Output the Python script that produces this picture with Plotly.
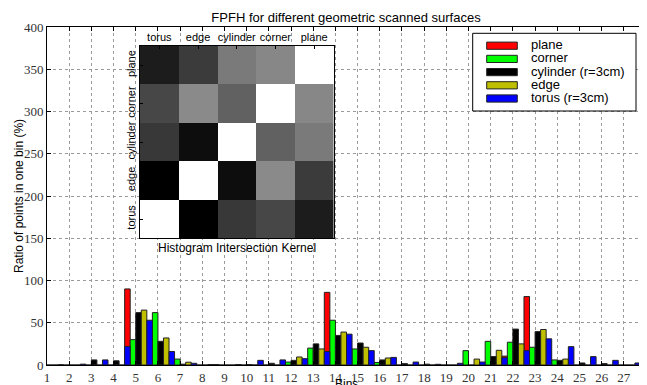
import plotly.graph_objects as go

# ---------------- data ----------------
bins = list(range(1, 28))
tick_labels = [str(b) for b in bins]
series_names = ["plane", "corner", "cylinder (r=3cm)", "edge", "torus (r=3cm)"]
series_colors = ["#ff0000", "#00ff00", "#000000", "#bfbf00", "#0000ff"]

plane = [0, 0, 0, 0, 90, 0, 0, 0, 0, 0, 0, 0, 0, 86, 0, 0, 0, 0, 0, 0, 0, 10.5, 81, 0, 0, 0, 0]
corner = [0, 0, 0, 0, 30, 62, 7, 0, 0, 0, 0, 3.5, 20, 53, 19, 3, 0, 0, 0, 17, 28, 27, 21, 6, 0, 0, 0]
cylinder = [0, 0, 6, 5, 62, 28, 1, 0, 0, 0.5, 2, 5.5, 25, 35, 26, 6, 1.6, 1, 0, 0, 10, 42.5, 39.5, 5.5, 2.4, 1.6, 0]
edge = [0, 0, 0, 0, 65, 32, 3.3, 0.6, 0, 0, 0, 9.5, 19, 39, 21, 8.3, 0, 0, 0, 7, 17.4, 25, 42, 7, 0, 0, 0]
torus = [0, 1, 6, 22, 53, 16, 2, 0.5, 0.5, 5.5, 6, 7.5, 16, 36.5, 17, 9, 3.5, 0.8, 2, 3.5, 8.7, 17, 31, 21.7, 9.9, 5.5, 2.4]

kernel_labels = ["torus", "edge", "cylinder", "corner", "plane"]
# rows listed bottom (torus) to top (plane); columns left to right
kernel = [
    [1.00, 0.00, 0.22, 0.28, 0.11],
    [0.00, 1.00, 0.05, 0.54, 0.23],
    [0.22, 0.05, 1.00, 0.38, 0.48],
    [0.28, 0.54, 0.38, 1.00, 0.53],
    [0.11, 0.23, 0.48, 0.53, 1.00],
]

# ---------------- layout helpers ----------------
# the page body adds an 8px offset; size the figure so the plot lands where the reference has it
OFF = 8
W, H = 639, 377
ML, MR, MT, MB = 39, 1, 19, 20
PW, PH = W - ML - MR, H - MT - MB


def px_x(px):
    return (px - OFF - ML) / PW


def px_y(py):
    return (H - MB - (py - OFF)) / PH


SANS = "Liberation Sans, Arial, sans-serif"
SERIF = "Liberation Serif, DejaVu Serif, serif"

fig = go.Figure()

bar_width = 0.25
all_series = [plane, corner, cylinder, edge, torus]
for i, (name, color, vals) in enumerate(zip(series_names, series_colors, all_series)):
    fig.add_trace(go.Bar(
        x=bins, y=vals, name=name,
        width=bar_width, offset=-0.5 + bar_width * i,
        marker=dict(color=color, line=dict(color="#222222", width=1)),
        showlegend=False,
    ))

fig.add_trace(go.Heatmap(
    x=kernel_labels, y=kernel_labels, z=kernel,
    colorscale=[[0, "black"], [1, "white"]], zmin=0, zmax=1,
    showscale=False, xaxis="x2", yaxis="y2",
))

axis_common = dict(
    showline=True, linecolor="black", linewidth=1, mirror="allticks",
    ticks="inside", ticklen=4, tickcolor="black",
    showgrid=True, gridcolor="#9a9a9a", griddash="dot", gridwidth=1,
    zeroline=False, tickfont=dict(family=SERIF, size=13, color="#333"),
)

fig.update_layout(
    width=W, height=H,
    margin=dict(l=ML, r=MR, t=MT, b=MB),
    plot_bgcolor="white", paper_bgcolor="white",
    barmode="overlay", showlegend=False,
    xaxis=dict(range=[1, 28], tickvals=bins, ticktext=tick_labels, **axis_common),
    yaxis=dict(range=[0, 400], dtick=50, **axis_common),
    xaxis2=dict(domain=[px_x(140), px_x(333.5)], anchor="y2", side="top",
                showline=True, linecolor="black", mirror=True, showgrid=False,
                ticks="inside", ticklen=3, tickcolor="black", zeroline=False,
                tickfont=dict(family=SANS, size=11, color="black")),
    yaxis2=dict(domain=[px_y(238.3), px_y(46)], anchor="x2",
                showline=True, linecolor="black", mirror=True, showgrid=False,
                ticks="inside", ticklen=3, tickcolor="black", zeroline=False,
                tickangle=-90,
                tickfont=dict(family=SANS, size=11, color="black")),
    title=dict(text="FPFH for different geometric scanned surfaces",
               x=px_x(346), xref="paper", y=1 - (17 - OFF) / H, yref="container",
               xanchor="center", yanchor="middle",
               font=dict(family=SANS, size=13, color="black")),
)

annotations = [
    dict(text="Ratio of points in one bin (%)", textangle=-90,
         x=px_x(19), y=0.5, xref="paper", yref="paper",
         xanchor="center", yanchor="middle", showarrow=False,
         font=dict(family=SANS, size=12, color="black")),
    dict(text="Bins", x=px_x(346), y=px_y(375), xref="paper", yref="paper",
         xanchor="center", yanchor="top", showarrow=False,
         font=dict(family=SANS, size=12, color="black")),
    dict(text="Histogram Intersection Kernel", x=px_x(237), y=px_y(248),
         xref="paper", yref="paper", xanchor="center", yanchor="middle",
         showarrow=False, font=dict(family=SANS, size=12, color="black")),
]

# manual legend (wide swatches like the reference)
shapes = [dict(type="rect", xref="paper", yref="paper",
               x0=px_x(472.7), x1=px_x(636), y0=px_y(111), y1=px_y(33.3),
               line=dict(color="black", width=1), fillcolor="white")]
row0, row_step = 45.7, 13.2
for i, (name, color) in enumerate(zip(series_names, series_colors)):
    cy = row0 + row_step * i
    shapes.append(dict(type="rect", xref="paper", yref="paper",
                       x0=px_x(486.7), x1=px_x(517.3),
                       y0=px_y(cy + 3.6), y1=px_y(cy - 3.6),
                       line=dict(color="#222222", width=1), fillcolor=color))
    annotations.append(dict(text=name, x=px_x(529), y=px_y(cy - 1),
                            xref="paper", yref="paper", xanchor="left",
                            yanchor="middle", showarrow=False,
                            font=dict(family=SANS, size=13, color="black")))

fig.update_layout(shapes=shapes, annotations=annotations)

fig.write_html("out.html")
